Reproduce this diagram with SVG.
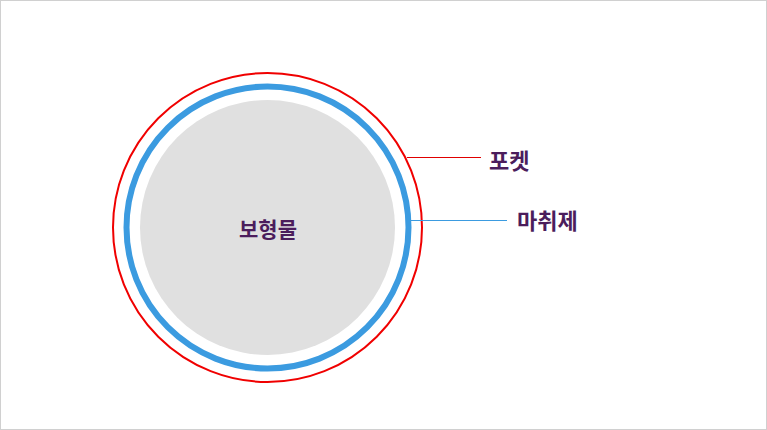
<svg xmlns="http://www.w3.org/2000/svg" width="767" height="430" viewBox="0 0 767 430">
<style>
.lbl{font-family:"Noto Sans CJK KR","Noto Sans",sans-serif;font-weight:bold;fill:#4b1d5c;}
</style>
<rect x="0.5" y="0.5" width="766" height="429" fill="#fff" stroke="#d0d0d0"/>
<g id="pocket"><circle cx="267.5" cy="227.5" r="154.5" fill="none" stroke="#f00000" stroke-width="2"/></g>
<g id="anesthetic"><circle cx="267.5" cy="227.5" r="141" fill="none" stroke="#3b9be0" stroke-width="6"/></g>
<g id="implant"><circle cx="267.5" cy="227.5" r="127.5" fill="#e0e0e0"/>
<text class="lbl" x="268" y="237" font-size="21" text-anchor="middle">보형물</text></g>
<g id="connectors">
<line x1="407" y1="157.5" x2="481" y2="157.5" stroke="#e00000" stroke-width="1"/>
<line x1="411" y1="220.5" x2="507" y2="220.5" stroke="#3b9be0" stroke-width="1"/>
</g>
<g id="label-pocket"><text class="lbl" x="489" y="169" font-size="22">포켓</text></g>
<g id="label-anesthetic"><text class="lbl" x="517" y="229" font-size="22">마취제</text></g>
</svg>
